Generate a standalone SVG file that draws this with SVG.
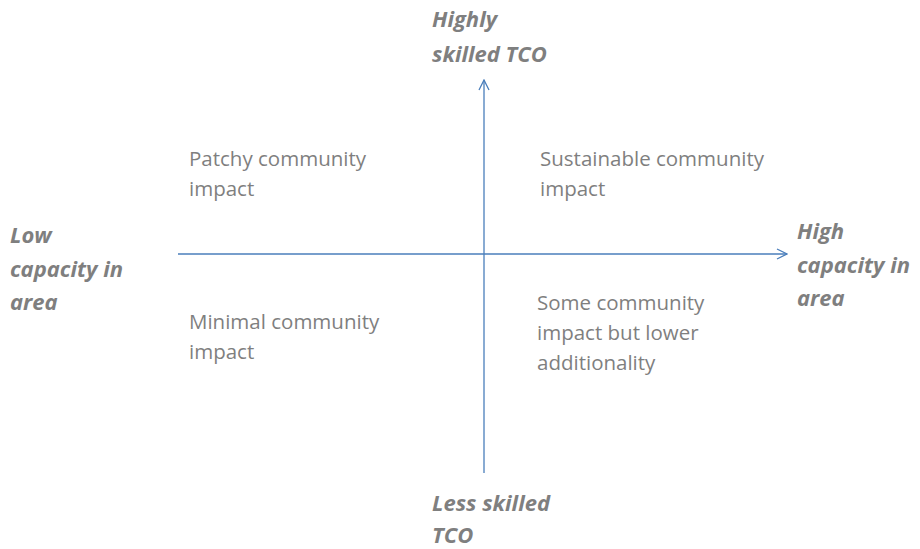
<svg xmlns="http://www.w3.org/2000/svg" width="920" height="549" viewBox="0 0 920 549">
  <style>
    .q { font-family: "Open Sans", "Liberation Sans", sans-serif; font-size: 20.5px; fill: #7f7f7f; }
    .ax { font-family: "Open Sans", "Liberation Sans", sans-serif; font-size: 22px; font-weight: bold; font-style: italic; fill: #7f7f7f; }
    .axis { stroke: #4a7ebb; stroke-width: 1.3; fill: none; }
  </style>
  <defs>
    <marker id="open" viewBox="0 0 12 12" refX="11" refY="6" markerWidth="12" markerHeight="12" markerUnits="userSpaceOnUse" orient="auto">
      <path d="M1,1 L11,6 L1,11" fill="none" stroke="#4a7ebb" stroke-width="1.3"/>
    </marker>
  </defs>
  <rect width="920" height="549" fill="#ffffff"/>

  <!-- axes -->
  <g id="connectors">
    <line class="axis" x1="178" y1="254" x2="787" y2="254" marker-end="url(#open)"/>
    <line class="axis" x1="484" y1="473" x2="484" y2="80" marker-end="url(#open)"/>
  </g>

  <!-- axis end labels -->
  <g id="top-label">
    <text class="ax" x="432" y="27">Highly</text>
    <text class="ax" x="432" y="62">skilled TCO</text>
  </g>
  <g id="bottom-label">
    <text class="ax" x="432" y="511">Less skilled</text>
    <text class="ax" x="432" y="543">TCO</text>
  </g>
  <g id="left-label">
    <text class="ax" x="10" y="243">Low</text>
    <text class="ax" x="10" y="277">capacity in</text>
    <text class="ax" x="10" y="310">area</text>
  </g>
  <g id="right-label">
    <text class="ax" x="797" y="239">High</text>
    <text class="ax" x="797" y="273">capacity in</text>
    <text class="ax" x="797" y="306">area</text>
  </g>

  <!-- quadrant descriptions -->
  <g id="patchy">
    <text class="q" x="189" y="166">Patchy community</text>
    <text class="q" x="189" y="196">impact</text>
  </g>
  <g id="sustainable">
    <text class="q" x="540" y="166">Sustainable community</text>
    <text class="q" x="540" y="196">impact</text>
  </g>
  <g id="minimal">
    <text class="q" x="189" y="329">Minimal community</text>
    <text class="q" x="189" y="359">impact</text>
  </g>
  <g id="some">
    <text class="q" x="537" y="310">Some community</text>
    <text class="q" x="537" y="340">impact but lower</text>
    <text class="q" x="537" y="370">additionality</text>
  </g>
</svg>
